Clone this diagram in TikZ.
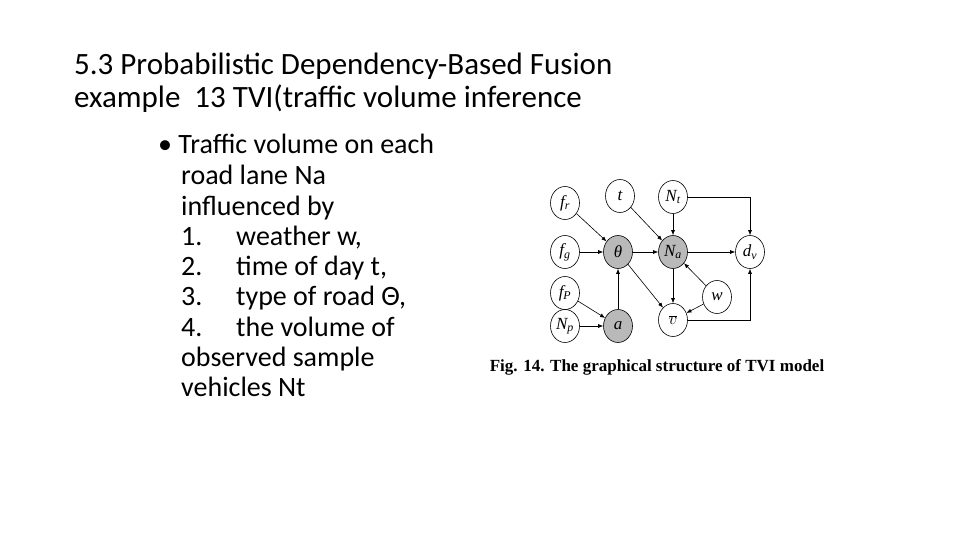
\documentclass[tikz,border=0pt]{standalone}
\usepackage{fontspec}
\setmainfont{Carlito}
\newfontfamily\tms{Liberation Serif}
\usetikzlibrary{arrows.meta,shapes.geometric}
\begin{document}
\begin{tikzpicture}[x=1pt,y=-1pt,
  nd/.style={draw,ellipse,minimum width=29pt,minimum height=33pt,inner sep=0pt,font=\tms\itshape\fontsize{17}{17}\selectfont,line width=0.6pt},
  sh/.style={nd,fill=gray!55},
  ar/.style={-{Latex[length=5pt,width=4pt]},line width=0.6pt},
  ttl/.style={anchor=base west,inner sep=0pt,font=\fontsize{31}{31}\selectfont},
  txt/.style={anchor=base west,inner sep=0pt,font=\fontsize{28}{28}\selectfont}]
\useasboundingbox (0,0) rectangle (960,540);
\node[ttl] (t1) at (74,75) {5.3 Probabilistic Dependency-Based Fusion};
\node[ttl] (t2) at (74,108) {example\ \ 13 TVI(traffic volume inference};
\node[txt] (b0) at (158,154) {• Traffic volume on each};
\node[txt] (b1) at (181,184) {road lane Na};
\node[txt] (b2) at (181,215) {influenced by};
\node[txt] (b3) at (181,245) {1.};\node[txt] (b3b) at (236,245) {weather w,};
\node[txt] (b4) at (181,275) {2.};\node[txt] (b4b) at (236,275) {time of day t,};
\node[txt] (b5) at (181,305) {3.};\node[txt] (b5b) at (236,305) {type of road Θ,};
\node[txt] (b6) at (181,336) {4.};\node[txt] (b6b) at (236,336) {the volume of};
\node[txt] (b7) at (181,366) {observed sample};
\node[txt] (b8) at (181,396) {vehicles Nt};
\node[nd] (fr) at (565,203) {f\textsubscript{r}};
\node[nd] (t) at (620,196) {t};
\node[nd] (Nt) at (673,197) {N\textsubscript{t}};
\node[sh,draw=none,fill=none] at (0,0) {};
\node[nd] (fg) at (565,252) {f\textsubscript{g}};
\node[sh] (th) at (618,252) {θ};
\node[sh] (Na) at (673,252) {N\textsubscript{a}};
\node[nd] (dv) at (750,252) {d\textsubscript{v}};
\node[nd] (fp) at (565,293) {f\textsubscript{P}};
\node[nd] (w) at (717,297) {w};
\node[nd] (Np) at (565,326) {N\textsubscript{p}};
\node[sh] (a) at (618,326) {a};
\node[nd] (vb) at (673,320) {$\overline{v}$};
\draw[ar] (fr) -- (th);
\draw[ar] (fg) -- (th);
\draw[ar] (t) -- (Na);
\draw[ar] (th) -- (Na);
\draw[ar] (Nt) -- (Na);
\draw[ar] (Nt.east) -| (dv.north);
\draw[ar] (Na) -- (dv);
\draw[ar] (th) -- (vb);
\draw[ar] (Na) -- (vb);
\draw[ar] (w) -- (Na);
\draw[ar] (w) -- (vb);
\draw[ar] (vb.east) -| (dv.south);
\draw[ar] (a) -- (th);
\draw[ar] (fp) -- (a);
\draw[ar] (Np) -- (a);
\node[inner sep=0pt,font=\tms\bfseries\fontsize{17}{17}\selectfont] (cap) at (657,367) {Fig. 14. The graphical structure of TVI model};
\end{tikzpicture}
\end{document}
